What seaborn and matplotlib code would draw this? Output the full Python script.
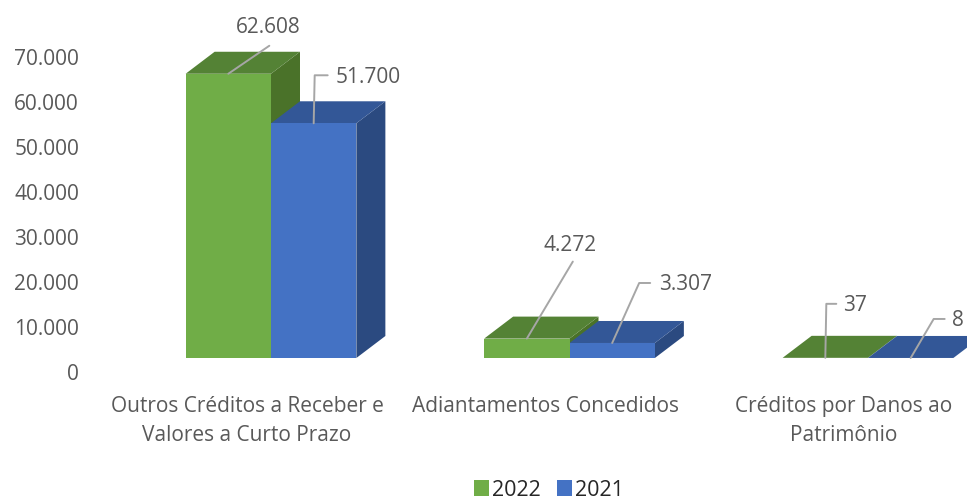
#!/usr/bin/env python
"""Excel-style 3D clustered bars: outros creditos a receber, 2022 vs 2021."""

import matplotlib.pyplot as plt
import pandas as pd
import seaborn as sns
from matplotlib.patches import Polygon
from matplotlib.transforms import Affine2D

CATEGORIES = ["Outros Créditos a Receber e\nValores a Curto Prazo",
              "Adiantamentos Concedidos",
              "Créditos por Danos ao\nPatrimônio"]
YEARS = ["2022", "2021"]
VALUES_2022 = [62608, 4272, 37]
VALUES_2021 = [51700, 3307, 8]
Y_TICKS = [0, 10000, 20000, 30000, 40000, 50000, 60000, 70000]

GREEN = "#70AD47"
BLUE = "#4472C4"
TOP = {GREEN: "#548235", BLUE: "#335797"}
SIDE = {GREEN: "#4A7229", BLUE: "#2B4A80"}
TEXT = "#595959"

W, H = 967, 500
PX_PER_UNIT = 45.4 / 10000    # bars
TICK_PX_PER_UNIT = 45.14 / 10000  # value labels, 3D perspective makes these a bit tighter
FLOOR_Y = 358       # pixel row of the front bars' base
ZERO_LABEL_Y = 375
DEPTH_X, DEPTH_Y = 29, 22
FONT = 15

# leader lines, pixel offsets from the bar's top-centre; last item is the label anchor
LEADERS = [
    ([(41, -28)], (40, -46), "center"),          # 62.608
    ([(1, -48), (14, -48)], (22, -46), "left"),  # 51.700
    ([(46, -77)], (43, -93), "center"),          # 4.272
    ([(27, -60), (38, -60)], (47, -58), "left"),  # 3.307
    ([(1, -54), (11, -54)], (18, -52), "left"),  # 37
    ([(23, -39), (34, -39)], (41, -37), "left"),  # 8
]


def fmt(v):
    return f"{v:,}".replace(",", ".")


sns.set_theme(style="white")
plt.rcParams["font.family"] = ["Open Sans", "DejaVu Sans"]

df = pd.DataFrame({
    "categoria": CATEGORIES * 2,
    "ano": [YEARS[0]] * 3 + [YEARS[1]] * 3,
    "valor": VALUES_2022 + VALUES_2021,
})

fig = plt.figure(figsize=(W / 100, H / 100), dpi=100)
ax = fig.add_axes([0, 0, 1, 1])
sns.barplot(data=df, x="categoria", y="valor", hue="ano", order=CATEGORIES,
            hue_order=YEARS, palette=[GREEN, BLUE], width=0.572, gap=0,
            saturation=1, errorbar=None, legend=False, linewidth=0, ax=ax)

# axes fill the figure, limits put category 0 at x=271 and spacing at 298.5 px
ax.set_xlim(-271 / 298.5, (W - 271) / 298.5)
ax.set_ylim(-(H - FLOOR_Y) / PX_PER_UNIT, FLOOR_Y / PX_PER_UNIT)

px = Affine2D().scale(1, -1).translate(0, H)   # pixel coords, origin top-left
to_px = ax.transData


def depth_faces(bar):
    (x0, y0), (x1, y1) = to_px.transform([(bar.get_x(), 0),
                                          (bar.get_x() + bar.get_width(), bar.get_height())])
    top = [(x0, y1), (x1, y1), (x1 + DEPTH_X, y1 + DEPTH_Y), (x0 + DEPTH_X, y1 + DEPTH_Y)]
    side = [(x1, y0), (x1 + DEPTH_X, y0 + DEPTH_Y), (x1 + DEPTH_X, y1 + DEPTH_Y), (x1, y1)]
    return top, side


bars = [b for c in ax.containers for b in c]
colors = [GREEN] * 3 + [BLUE] * 3
# green first: the blue block cuts the green side along its own top edge
for i in [0, 3, 1, 4, 2, 5]:
    top, side = depth_faces(bars[i])
    ax.add_patch(Polygon(side, closed=True, transform=None, fc=SIDE[colors[i]], ec="none", zorder=2))
    ax.add_patch(Polygon(top, closed=True, transform=None, fc=TOP[colors[i]], ec="none", zorder=2))
for b in bars:
    b.set_zorder(3)

# value labels with grey leader lines
order = [0, 3, 1, 4, 2, 5]
all_vals = VALUES_2022 + VALUES_2021
for i, (pts, lab, ha) in zip(order, LEADERS):
    b = bars[i]
    cx, cy = to_px.transform((b.get_x() + b.get_width() / 2, b.get_height()))
    cy = H - cy
    xs = [cx] + [cx + p[0] for p in pts]
    ys = [cy] + [cy + p[1] for p in pts]
    ax.plot(xs, ys, transform=px, color="#A6A6A6", lw=1.4, zorder=5, clip_on=False)
    ax.text(cx + lab[0], cy + lab[1], fmt(all_vals[i]), transform=px, ha=ha, va="center",
            fontsize=FONT, color=TEXT, zorder=6)

# value axis labels sit lower than the bars' floor, like in the 3D original
for v in Y_TICKS:
    ax.annotate(fmt(v), xy=(79, ZERO_LABEL_Y - v * TICK_PX_PER_UNIT), xycoords=px, ha="right",
                va="center", fontsize=FONT, color=TEXT)

ax.set_xlabel("")
ax.set_ylabel("")
ax.set_yticks([])
ax.set_xticks([])
for x, cat in enumerate(CATEGORIES):
    ax.annotate(cat, xy=(x, 0), xytext=(-24, -38), textcoords="offset pixels",
                ha="center", va="top", fontsize=FONT, color=TEXT, linespacing=1.5)
sns.despine(ax=ax, left=True, bottom=True, top=True, right=True)

# legend squares from the same palette
handles = [bars[0], bars[3]]
ax.legend(handles, YEARS, ncol=2, frameon=False, loc="center", bbox_to_anchor=(549 / W, 1 - 490 / H),
          fontsize=15.5, handlelength=0.7, handleheight=0.7, handletextpad=0.15,
          columnspacing=0.75, labelcolor="#262626", borderpad=0)

fig.savefig("out.png", dpi=100)
